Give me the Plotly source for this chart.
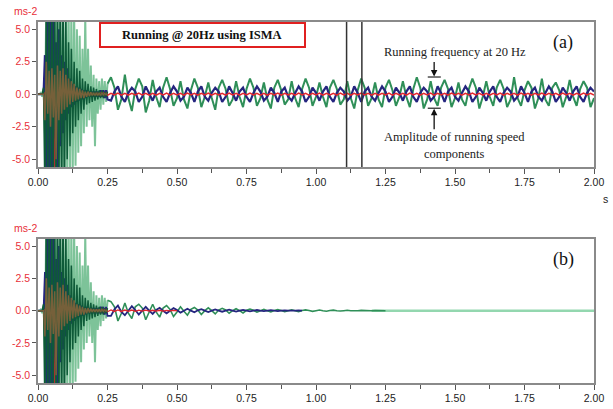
import numpy as np
import plotly.graph_objects as go

# ---------------- data ----------------
# transient segment: t = 0.000 .. 0.250 step 0.005 (51 samples)
t_tr = np.round(np.arange(0, 51) * 0.005, 4)
# steady segment: t = 0.2625 .. 2.000 step 0.0125 (140 samples)
t_ss = np.round(0.25 + np.arange(1, 141) * 0.0125, 4)
# panel (b) decay segment: t = 0.2625 .. 1.25 (80 samples)
t_b = np.round(0.25 + np.arange(1, 81) * 0.0125, 4)

lg_tr = [0, 0, 0.1, -0.2, 0.4, -3, 8, -8, 8, -8, 8, -8, 8, -8, 8, -8, 8, -8, 7, -8,
         8, -6, 7, -7, 6.5, -6, 6.5, -5.5, 5, -4.5, 4.5, -4, 3.5, -3, 6, -2.5, 3.5, -2, 2.2, -2.5,
         1.5, -4, 1.2, -1.5, 1.0, -1.2, 1.2, -0.8, 1.0, -0.6, 0.8]
dg_tr = [0, 0, 0, 0, 0.5, -8, 8, -8, 8, -8, 8, -8, 8, -8, 8, -8, 8, -8, 8, -8,
         6, -5, 4, -4, 3.5, -3, 2.5, -2.5, 2, -2, 1.8, -1.5, 1.2, -1.2, 1.0, -0.8, 0.8, -0.7, 0.6, -0.6,
         0.5, -0.5, 0.4, -0.4, 0.3, -0.3, 0.3, -0.3, 0.2, -0.2, 0.2]
br_tr = [0, 0, 0, 0, 0, -2, 2.5, -1.5, 1.8, -2.5, 2.0, -1.8, 1.5, -5, 2.2, -2, 1.8, -1.5, 2.0, -1.2,
         1.5, -1.0, 1.2, -0.8, 1.0, -0.6, 0.8, -0.5, 0.5, -0.4, 0.4, -0.3, 0.3, -0.3, 0.2, -0.2, 0.2, -0.15, 0.15, -0.1,
         0.1, -0.1, 0.1, -0.1, 0.1, -0.1, 0.1, -0.05, 0.05, -0.05, 0.05]
nv_tr = [0, 0, 0, 0, 0, 3, -6, 8, -8, 6, -8, 8, -5, 4, -6, 5, -4, 3, -3, 2.5,
         -2, 2, -1.5, 1.2, -1, 0.8, -0.8, 0.6, -0.6, 0.5, -0.5, 0.4, -0.4, 0.3, -0.3, 0.3, -0.2, 0.2, -0.2, 0.2,
         -0.2, 0.2, -0.2, 0.2, -0.2, 0.3, -0.2, 0.3, -0.3, 0.3, -0.4]
rd_tr = [0, 0, 0, 0, 0, 0.1, -0.2, 0.2, -0.3, 0.2, -0.4, 0.2, -8, 0.3, -0.2, 0.2, -0.2, 0.15, -0.15, 0.1,
         -0.1, 0.1, -0.1, 0.1, -0.1, 0.1, -0.1, 0.08, -0.08, 0.08, -0.08, 0.08, -0.08, 0.08, -0.08, 0.08, -0.08, 0.08, -0.08, 0.08,
         -0.08, 0.08, -0.08, 0.08, -0.08, 0.08, -0.08, 0.08, -0.08, 0.08, -0.08]

lg_ss = [1.3, 0.5, -1.2, -0.4, 1.5, -0.3, -1.3, 0.4, 1.2, 0.6, -1.4, -0.5, 1.1, -0.2, -1.0, 0.5,
         1.3, 0.4, -0.9, -0.3, 1.0, -0.4, -1.1, 0.3, 1.2, 0.5, -1.0, -0.2, 0.9, -0.3, -1.2, 0.5,
         1.1, 0.4, -0.9, -0.4, 1.0, -0.2, -1.0, 0.4, 1.2, 0.5, -0.9, -0.3, 0.9, -0.4, -1.1, 0.5,
         1.1, 0.3, -0.8, -0.4, 1.0, -0.3, -1.0, 0.4, 1.2, 0.5, -0.9, -0.2, 0.9, -0.2, -1.0, 0.5,
         1.1, 0.4, -0.8, -0.4, 1.0, -0.3, -1.1, 0.3, 1.2, 0.5, -0.9, -0.3, 0.9, -0.4, -1.0, 0.5,
         1.1, 0.3, -0.9, -0.2, 1.0, -0.2, -1.0, 0.4, 1.3, 0.5, -1.1, -0.4, 1.0, -0.3, -0.9, 0.5,
         1.1, 0.4, -1.0, -0.3, 0.9, -0.4, -0.9, 0.4, 1.2, 0.5, -1.1, -0.2, 1.0, -0.2, -0.9, 0.5,
         1.1, 0.4, -1.0, -0.4, 1.3, -0.3, -0.9, 0.3, 1.0, 0.5, -1.1, -0.3, 1.2, -0.4, -0.9, 0.5,
         0.9, 0.3, -1.0, -0.2, 1.1, -0.2, -0.9, 0.4, 1.0, 0.5, -1.0, -0.3]
nv_ss = [-0.5, 0.2, 0.6, -0.2, -0.6, 0.1, 0.5, 0.2, -0.6, -0.2, 0.6, 0.1, -0.5, 0.2, 0.5, -0.2,
         -0.6, 0.1, 0.6, 0.2, -0.5, -0.2, 0.5, 0.1, -0.6, 0.2, 0.6, -0.2, -0.5, 0.1, 0.5, 0.2,
         -0.6, -0.2, 0.6, 0.1, -0.5, 0.2, 0.5, -0.2, -0.6, 0.1, 0.6, 0.2, -0.5, -0.2, 0.5, 0.1,
         -0.6, 0.2, 0.5, -0.2, -0.5, 0.1, 0.6, 0.2, -0.6, -0.2, 0.5, 0.1, -0.5, 0.2, 0.6, -0.2,
         -0.6, 0.1, 0.5, 0.2, -0.5, -0.2, 0.6, 0.1, -0.6, 0.2, 0.5, -0.2, -0.5, 0.1, 0.6, 0.2,
         -0.6, -0.2, 0.5, 0.1, -0.5, 0.2, 0.6, -0.2, -0.6, 0.1, 0.5, 0.2, -0.5, -0.2, 0.6, 0.1,
         -0.6, 0.2, 0.5, -0.2, -0.5, 0.1, 0.6, 0.2, -0.6, -0.2, 0.5, 0.1, -0.5, 0.2, 0.6, -0.2,
         -0.6, 0.1, 0.5, 0.2, -0.5, -0.2, 0.6, 0.1, -0.6, 0.2, 0.5, -0.2, -0.5, 0.1, 0.6, 0.2,
         -0.6, -0.2, 0.5, 0.1, -0.5, 0.2, 0.6, -0.2, -0.6, 0.1, 0.5, 0.2]
rd_ss = [0.06, -0.06, 0.08, -0.07, 0.06, -0.08, 0.07, -0.06, 0.08, -0.06, 0.06, -0.07, 0.07, -0.08, 0.06, -0.06,
         0.08, -0.07, 0.06, -0.06, 0.07, -0.08, 0.08, -0.06, 0.06, -0.07, 0.07, -0.06, 0.08, -0.08, 0.06, -0.06,
         0.07, -0.07, 0.08, -0.06, 0.06, -0.08, 0.07, -0.06, 0.08, -0.06, 0.06, -0.07, 0.07, -0.08, 0.06, -0.06,
         0.08, -0.07, 0.06, -0.06, 0.07, -0.08, 0.08, -0.06, 0.06, -0.07, 0.07, -0.06, 0.08, -0.08, 0.06, -0.06,
         0.07, -0.07, 0.08, -0.06, 0.06, -0.08, 0.07, -0.06, 0.08, -0.06, 0.06, -0.07, 0.07, -0.08, 0.06, -0.06,
         0.08, -0.07, 0.06, -0.06, 0.07, -0.08, 0.08, -0.06, 0.06, -0.07, 0.07, -0.06, 0.08, -0.08, 0.06, -0.06,
         0.07, -0.07, 0.08, -0.06, 0.06, -0.08, 0.07, -0.06, 0.08, -0.06, 0.06, -0.07, 0.07, -0.08, 0.06, -0.06,
         0.08, -0.07, 0.06, -0.06, 0.07, -0.08, 0.08, -0.06, 0.06, -0.07, 0.07, -0.06, 0.08, -0.08, 0.06, -0.06,
         0.07, -0.07, 0.08, -0.06, 0.06, -0.08, 0.07, -0.06, 0.08, -0.06, 0.06, -0.07]

lg_b = [0.7, 0.3, -0.8, -0.2, 0.6, -0.2, -0.6, 0.3, 0.5, 0.2, -0.7, -0.1, 0.5, -0.1, -0.5, 0.2,
        0.4, 0.1, -0.45, -0.1, 0.3, -0.05, -0.35, 0.1, 0.25, 0.05, -0.3, 0.0, 0.22, 0.0, -0.25, 0.05,
        0.18, 0.05, -0.2, 0.0, 0.15, 0.0, -0.18, 0.03, 0.12, 0.03, -0.12, 0.0, 0.1, 0.0, -0.1, 0.02,
        0.08, 0.02, -0.08, 0.0, 0.07, 0.0, -0.07, 0.01, 0.06, 0.01, -0.05, 0.0, 0.05, 0.0, -0.04, 0.01,
        0.04, 0.0, -0.03, 0.0, 0.03, 0.0, -0.02, 0.0, 0.02, 0.0, -0.02, 0.0, 0.01, 0.0, -0.01, 0.0]
nv_b = [-0.4, 0.1, 0.4, -0.1, -0.35, 0.0, 0.35, 0.05, -0.3, 0.0, 0.3, 0.0, -0.25, 0.05, 0.22, 0.0,
        -0.2, 0.0, 0.2, 0.05, -0.15, 0.0, 0.15, 0.0, -0.12, 0.03, 0.12, 0.0, -0.1, 0.0, 0.1, 0.0,
        -0.08, 0.0, 0.08, 0.0, -0.07, 0.0, 0.06, 0.0, -0.05, 0.0, 0.05, 0.0, -0.04, 0.0, 0.04, 0.0,
        -0.03, 0.0, 0.03, 0.0, -0.02, 0.0, 0.02, 0.0]
rd_b = [0.06, -0.06, 0.06, -0.06, 0.05, -0.05, 0.05, -0.05, 0.04, -0.04, 0.04, -0.04, 0.03, -0.03, 0.03, -0.03,
        0.02, -0.02, 0.02, -0.02]
tail_t = [1.2, 2.0]
tail_v = [0.0, 0.0]

y_ticks = [-5.0, -2.5, 0.0, 2.5, 5.0]
y_tick_text = ["-5.0", "-2.5", "0.0", "2.5", "5.0"]
marker_lines = [1.11, 1.165]

# ---------------- figure ----------------
W, H = 613, 409
def px(x):
    return x / W
def py(y):
    return 1 - y / H

C_LGT = "rgba(70,170,110,0.7)"
C_LG = "#2f8f58"
C_DG = "#0e5a38"
C_BR = "#76603a"
C_NV = "#25257f"
C_RD = "#e4262c"

fig = go.Figure()

def add(x, y, color, width, xa, ya):
    fig.add_trace(go.Scatter(x=list(x), y=list(y), mode="lines",
                             line=dict(color=color, width=width),
                             xaxis=xa, yaxis=ya, showlegend=False, hoverinfo="skip"))

t_tr_l = list(t_tr)
for xa, ya in [("x", "y"), ("x2", "y2")]:
    if xa == "x":
        add(t_tr_l, lg_tr, C_LGT, 2, xa, ya)
        add([t_tr_l[-1]] + list(t_ss), [lg_tr[-1]] + lg_ss, C_LG, 2, xa, ya)
        add(t_tr_l + list(t_ss), nv_tr + nv_ss, C_NV, 2.2, xa, ya)
        add(t_tr_l + list(t_ss), rd_tr + rd_ss, C_RD, 1.5, xa, ya)
        add(t_tr_l, dg_tr, C_DG, 1.5, xa, ya)
        add(t_tr_l, br_tr, C_BR, 1.5, xa, ya)
    else:
        add(tail_t, tail_v, "rgba(120,205,155,0.8)", 2.5, xa, ya)
        add(t_tr_l, lg_tr, C_LGT, 2, xa, ya)
        add([t_tr_l[-1]] + list(t_b), [lg_tr[-1]] + lg_b, C_LG, 1.6, xa, ya)
        add(t_tr_l + list(t_b[:len(nv_b)]), nv_tr + nv_b, C_NV, 1.8, xa, ya)
        add(t_tr_l + list(t_b[:len(rd_b)]), rd_tr + rd_b, C_RD, 1.3, xa, ya)
        add(t_tr_l, dg_tr, C_DG, 1.5, xa, ya)
        add(t_tr_l, br_tr, C_BR, 1.5, xa, ya)

tickfont_y = dict(family="Liberation Sans, Arial", size=10.5, color="#e8303a")
tickfont_x = dict(family="Liberation Sans, Arial", size=10.5, color="#222222")

xcommon = dict(range=[0, 2], dtick=0.25, tick0=0, tickformat=".2f", showline=True,
               linecolor="#8a8a8a", linewidth=1.5, mirror=True, ticks="outside",
               ticklen=5, tickcolor="#555", showgrid=False, zeroline=False, automargin=False,
               tickfont=tickfont_x, domain=[px(38), px(594)],
               minor=dict(dtick=0.125, ticks="outside", ticklen=4, tickcolor="#555", showgrid=False))
ycommon = dict(range=[-5.6, 5.55], tickvals=y_ticks, ticktext=y_tick_text, showline=True,
               linecolor="#8a8a8a", linewidth=1.5, mirror=True, ticks="outside", automargin=False,
               ticklen=4, tickcolor="#555", showgrid=False, zeroline=False,
               tickfont=tickfont_y)

fig.update_layout(
    width=W, height=H, margin=dict(l=0, r=0, t=0, b=0, autoexpand=False),
    paper_bgcolor="white", plot_bgcolor="white",
    xaxis=dict(**xcommon, anchor="y"),
    yaxis=dict(**ycommon, domain=[py(167), py(22)], anchor="x"),
    xaxis2=dict(**xcommon, anchor="y2"),
    yaxis2=dict(**ycommon, domain=[py(383), py(239)], anchor="x2"),
)

shapes = []
for xv in marker_lines:
    shapes.append(dict(type="line", xref="x", yref="y domain", x0=xv, x1=xv, y0=0, y1=1,
                       line=dict(color="#333", width=1.5)))
# ISMA box
shapes.append(dict(type="rect", xref="paper", yref="paper", x0=px(100), x1=px(305),
                   y0=py(47), y1=py(23), line=dict(color="#e02020", width=2), fillcolor="white"))
# amplitude bars
shapes.append(dict(type="line", xref="x", yref="y", x0=1.402, x1=1.449, y0=1.32, y1=1.32,
                   line=dict(color="#222", width=1.2)))
shapes.append(dict(type="line", xref="x", yref="y", x0=1.402, x1=1.449, y0=-1.08, y1=-1.08,
                   line=dict(color="#222", width=1.2)))
fig.update_layout(shapes=shapes)

serif = "Liberation Serif, Times New Roman, serif"
def label(x, y, text, size, color, family=serif):
    return dict(x=px(x), y=py(y), xref="paper", yref="paper", text=text, showarrow=False,
                xanchor="center", yanchor="middle", font=dict(family=family, size=size, color=color))

ann = []
ann.append(label(202, 35, "<b>Running @ 20Hz using ISMA</b>", 12.5, "#111"))
ann.append(label(455, 52, "Running frequency at 20 Hz", 12.5, "#222"))
ann.append(label(455, 137, "Amplitude of running speed", 12.5, "#222"))
ann.append(label(455, 154, "components", 12.5, "#222"))
ann.append(label(563, 42, "(a)", 18, "#111"))
ann.append(label(563, 259, "(b)", 18, "#111"))
ann.append(label(25, 11, "ms-2", 10.5, "#e8303a", "Liberation Sans, Arial"))
ann.append(label(25, 228, "ms-2", 10.5, "#e8303a", "Liberation Sans, Arial"))
ann.append(label(605, 199, "s", 10.5, "#222", "Liberation Sans, Arial"))
# arrows
ann.append(dict(x=1.425, y=1.36, xref="x", yref="y", ax=0, ay=-16, text="", showarrow=True,
                arrowhead=2, arrowsize=1, arrowwidth=1.3, arrowcolor="#111"))
ann.append(dict(x=1.425, y=-1.12, xref="x", yref="y", ax=0, ay=22, text="", showarrow=True,
                arrowhead=2, arrowsize=1, arrowwidth=1.3, arrowcolor="#111"))
fig.update_layout(annotations=ann)

fig.write_html("out.html")
